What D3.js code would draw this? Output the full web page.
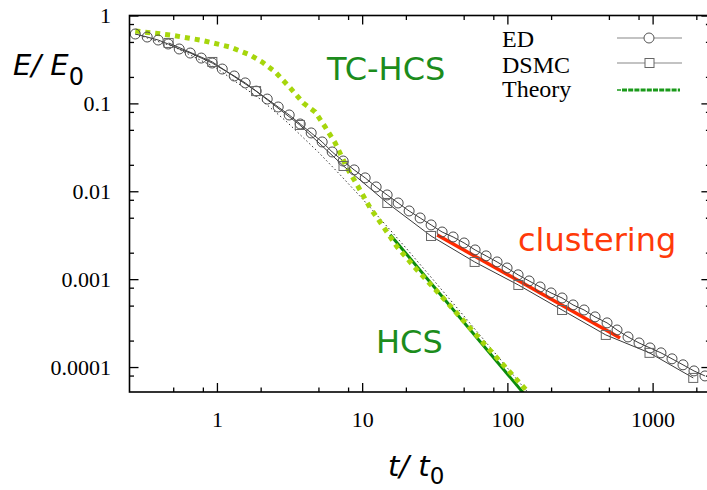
<!DOCTYPE html>
<html>
<head>
<meta charset="utf-8">
<script src="https://cdn.jsdelivr.net/npm/d3@7"></script>
<style>
  body { margin: 0; background: #fff; }
  svg { display: block; }
</style>
</head>
<body>
<div id="chart"></div>
<script>
// ED data (circles)
var edT = [0.274, 0.331, 0.394, 0.462, 0.550, 0.655, 0.780, 0.928, 1.088, 1.315,
  1.566, 1.864, 2.220, 2.642, 3.145, 3.744, 4.457, 5.305, 6.217, 7.400,
  8.808, 10.49, 12.48, 14.86, 17.69, 21.06, 25.07, 29.84, 35.52, 42.29,
  50.35, 59.93, 71.35, 84.94, 99.5, 118.5, 141.1, 167.9, 199.8, 237.9,
  283.3, 337.3, 401.5, 485.6, 568.9, 677.1, 806.2, 959.6, 1142, 1360,
  1619, 1927, 2294];
var edE = [0.616, 0.569, 0.526, 0.474, 0.416, 0.374, 0.328, 0.288, 0.246, 0.205,
  0.171, 0.138, 0.112, 0.0910, 0.0738, 0.0583, 0.0461, 0.0364, 0.0280, 0.0221,
  0.0175, 0.0142, 0.0112, 0.00908, 0.00736, 0.00597, 0.00497, 0.00414, 0.00344, 0.00302,
  0.00258, 0.00215, 0.00184, 0.00157, 0.00134, 0.00112, 0.000954, 0.000815, 0.000697, 0.000611,
  0.000509, 0.000446, 0.000372, 0.000318, 0.000264, 0.000220, 0.000188, 0.000165, 0.000145, 0.000124,
  0.000106, 0.0000903, 0.0000792];

// DSMC data (squares)
var dsmcT = [0.465, 0.93, 1.86, 3.72, 7.44, 14.9, 29.8, 59.5, 119, 238, 476, 952, 1905];
var dsmcE = [0.487, 0.296, 0.138, 0.0568, 0.0194, 0.00736, 0.00310, 0.00157,
  0.000859, 0.000446, 0.000232, 0.000145, 0.0000752];

// thin dotted reference curve
var haffT = [0.274, 0.5, 1, 2, 3, 5, 7, 10, 15, 20, 30, 50, 80, 130, 140];
var haffE = [0.616, 0.444, 0.25, 0.111, 0.0625, 0.0278, 0.0156, 0.00826, 0.0039,
  0.00227, 0.00104, 0.000384, 0.000152, 0.000058, 0.0000507];

// TC-HCS theory (light green dotted)
var tcT = [0.274, 0.477, 0.767, 1.234, 1.695, 2.05, 2.52, 3.196, 3.93, 4.75, 5.56,
  6.52, 7.88, 9.24, 11.35, 13.73, 17.42, 23.91, 36.1, 70.2, 134.6];
var tcE = [0.666, 0.600, 0.526, 0.438, 0.355, 0.296, 0.228, 0.150, 0.101, 0.0798, 0.0539,
  0.0354, 0.0184, 0.0118, 0.00646, 0.00414, 0.00232, 0.00127, 0.000611, 0.000179, 0.0000548];

// HCS theory (dark green) and clustering fit (red)
var hcsT = [15.6, 131];
var hcsE = [0.0032, 0.000049];
var clusT = [32.9, 597];
var clusE = [0.00318, 0.000214];

var xMajor = [1, 10, 100, 1000];
var xLabels = ["1", "10", "100", "1000"];
var xMinor = [0.5, 0.8, 2, 5, 8, 20, 50, 80, 200, 500, 800, 2000];
var yMajor = [1, 0.1, 0.01, 0.001, 0.0001];
var yLabels = ["1", "0.1", "0.01", "0.001", "0.0001"];
var yMinor = [0.8, 0.5, 0.2, 0.08, 0.05, 0.02, 0.008, 0.005, 0.002,
  0.0008, 0.0005, 0.0002, 0.00008];
var legendLabels = ["ED", "DSMC", "Theory"];

var svgWidth = 707;
var svgHeight = 490;
var pLeft = 129.5, pTop = 15.5, pRight = 710.4, pBottom = 392;

var svg = d3.select("#chart")
  .append("svg")
  .attr("width", svgWidth)
  .attr("height", svgHeight);

var x = d3.scaleLog().domain([0.25, 2500]).range([pLeft, pRight]);
var y = d3.scaleLog().domain([5.2e-5, 1]).range([pBottom, pTop]);

svg.append("clipPath").attr("id", "plotclip")
  .append("rect")
  .attr("x", pLeft).attr("y", pTop)
  .attr("width", pRight - pLeft).attr("height", pBottom - pTop);

var plot = svg.append("g").attr("clip-path", "url(#plotclip)");

function pts(ts, es) {
  return ts.map(function(t, i) { return [t, es[i]]; });
}
var line = d3.line()
  .x(function(d) { return x(d[0]); })
  .y(function(d) { return y(d[1]); });

// dotted reference
plot.append("path")
  .attr("d", line(pts(haffT, haffE)))
  .attr("fill", "none")
  .attr("stroke", "#333")
  .attr("stroke-width", 1)
  .attr("stroke-dasharray", "1.5,2.5");

// DSMC line
plot.append("path")
  .attr("d", line(pts(dsmcT, dsmcE)))
  .attr("fill", "none")
  .attr("stroke", "#3a3a3a")
  .attr("stroke-width", 1);

// ED line
plot.append("path")
  .attr("d", line(pts(edT, edE)))
  .attr("fill", "none")
  .attr("stroke", "#3a3a3a")
  .attr("stroke-width", 1);

// HCS
plot.append("path")
  .attr("d", line(pts(hcsT, hcsE)))
  .attr("fill", "none")
  .attr("stroke", "#0c8c0c")
  .attr("stroke-width", 3);

// TC-HCS
plot.append("path")
  .attr("d", line(pts(tcT, tcE)))
  .attr("fill", "none")
  .attr("stroke", "#a6d60c")
  .attr("stroke-width", 5)
  .attr("stroke-dasharray", "5,5");

// clustering
plot.append("path")
  .attr("d", line(pts(clusT, clusE)))
  .attr("fill", "none")
  .attr("stroke", "#ff2a00")
  .attr("stroke-width", 3.5);

// markers
plot.selectAll("circle.ed")
  .data(pts(edT, edE))
  .enter().append("circle")
  .attr("class", "ed")
  .attr("cx", function(d) { return x(d[0]); })
  .attr("cy", function(d) { return y(d[1]); })
  .attr("r", 5)
  .attr("fill", "none")
  .attr("stroke", "#4a4a4a")
  .attr("stroke-width", 1);

plot.selectAll("rect.dsmc")
  .data(pts(dsmcT, dsmcE))
  .enter().append("rect")
  .attr("class", "dsmc")
  .attr("x", function(d) { return x(d[0]) - 4.5; })
  .attr("y", function(d) { return y(d[1]) - 4.5; })
  .attr("width", 9)
  .attr("height", 9)
  .attr("fill", "none")
  .attr("stroke", "#666")
  .attr("stroke-width", 1);

// axes (ticks point inward)
function styleAxis(g) {
  g.select(".domain").remove();
  g.selectAll("line").attr("stroke", "#000").attr("stroke-width", 1.3);
  g.selectAll("text")
    .attr("font-family", "'Liberation Serif', 'Times New Roman', serif")
    .attr("font-size", "22px")
    .attr("fill", "#000");
}

svg.append("g")
  .attr("transform", "translate(0," + pBottom + ")")
  .call(d3.axisBottom(x).tickValues(xMajor)
    .tickFormat(function(d, i) { return xLabels[i]; })
    .tickSizeInner(-9).tickSizeOuter(0).tickPadding(19.5))
  .call(styleAxis);
svg.append("g")
  .attr("transform", "translate(0," + pBottom + ")")
  .call(d3.axisBottom(x).tickValues(xMinor).tickFormat("")
    .tickSizeInner(-4.5).tickSizeOuter(0))
  .call(styleAxis);
svg.append("g")
  .attr("transform", "translate(0," + pTop + ")")
  .call(d3.axisTop(x).tickValues(xMajor).tickFormat("")
    .tickSizeInner(-9).tickSizeOuter(0))
  .call(styleAxis);
svg.append("g")
  .attr("transform", "translate(0," + pTop + ")")
  .call(d3.axisTop(x).tickValues(xMinor).tickFormat("")
    .tickSizeInner(-4.5).tickSizeOuter(0))
  .call(styleAxis);

svg.append("g")
  .attr("transform", "translate(" + pLeft + ",0)")
  .call(d3.axisLeft(y).tickValues(yMajor)
    .tickFormat(function(d, i) { return yLabels[i]; })
    .tickSizeInner(-9).tickSizeOuter(0).tickPadding(18.5))
  .call(styleAxis);
svg.append("g")
  .attr("transform", "translate(" + pLeft + ",0)")
  .call(d3.axisLeft(y).tickValues(yMinor).tickFormat("")
    .tickSizeInner(-4.5).tickSizeOuter(0))
  .call(styleAxis);
svg.append("g")
  .attr("transform", "translate(" + pRight + ",0)")
  .call(d3.axisRight(y).tickValues(yMajor).tickFormat("")
    .tickSizeInner(-9).tickSizeOuter(0))
  .call(styleAxis);
svg.append("g")
  .attr("transform", "translate(" + pRight + ",0)")
  .call(d3.axisRight(y).tickValues(yMinor).tickFormat("")
    .tickSizeInner(-4.5).tickSizeOuter(0))
  .call(styleAxis);

// frame
svg.append("rect")
  .attr("x", pLeft).attr("y", pTop)
  .attr("width", pRight - pLeft).attr("height", pBottom - pTop)
  .attr("fill", "none")
  .attr("stroke", "#000")
  .attr("stroke-width", 1.6);

// legend
var leg = svg.append("g");
var legY = [38, 63, 90];
var legTextY = [47, 73, 97];
leg.selectAll("text")
  .data(legendLabels)
  .enter().append("text")
  .attr("x", 502)
  .attr("y", function(d, i) { return legTextY[i]; })
  .attr("font-family", "'Liberation Serif', 'Times New Roman', serif")
  .attr("font-size", "24px")
  .attr("fill", "#000")
  .text(function(d) { return d; });
leg.selectAll("line.sample")
  .data([0, 1])
  .enter().append("line")
  .attr("class", "sample")
  .attr("x1", 617).attr("x2", 682)
  .attr("y1", function(d) { return legY[d]; })
  .attr("y2", function(d) { return legY[d]; })
  .attr("stroke", "#888")
  .attr("stroke-width", 1.2);
leg.append("circle")
  .attr("cx", 649).attr("cy", legY[0]).attr("r", 5)
  .attr("fill", "#fff").attr("stroke", "#555");
leg.append("rect")
  .attr("x", 645).attr("y", legY[1] - 4.5).attr("width", 9).attr("height", 9)
  .attr("fill", "#fff").attr("stroke", "#666");
leg.append("line")
  .attr("x1", 617).attr("x2", 621)
  .attr("y1", legY[2]).attr("y2", legY[2])
  .attr("stroke", "#1a9a1a").attr("stroke-width", 1.5);
leg.append("line")
  .attr("x1", 622).attr("x2", 680)
  .attr("y1", legY[2]).attr("y2", legY[2])
  .attr("stroke", "#1a9a1a").attr("stroke-width", 3)
  .attr("stroke-dasharray", "5,1.2");

// annotations
var sans = "'DejaVu Sans', Verdana, sans-serif";
svg.append("text")
  .attr("x", 327).attr("y", 80)
  .attr("font-family", sans).attr("font-size", "32px")
  .attr("fill", "#1c8c1c")
  .text("TC-HCS");
svg.append("text")
  .attr("x", 376).attr("y", 353)
  .attr("font-family", sans).attr("font-size", "32px")
  .attr("fill", "#1c8c1c")
  .text("HCS");
svg.append("text")
  .attr("x", 518).attr("y", 251)
  .attr("font-family", sans).attr("font-size", "32px")
  .attr("fill", "#ff3a0a")
  .text("clustering");

// axis titles
var yt = svg.append("text")
  .attr("x", 13).attr("y", 75)
  .attr("font-family", sans).attr("font-size", "29px")
  .attr("fill", "#000");
yt.append("tspan").attr("font-style", "italic").text("E/ E");
yt.append("tspan").attr("font-size", "24px").attr("dy", 10).text("0");

var xt = svg.append("text")
  .attr("x", 388).attr("y", 476)
  .attr("font-family", sans).attr("font-size", "29px")
  .attr("fill", "#000");
xt.append("tspan").attr("font-style", "italic").text("t/ t");
xt.append("tspan").attr("font-size", "23px").attr("dy", 8).text("0");
</script>
</body>
</html>
